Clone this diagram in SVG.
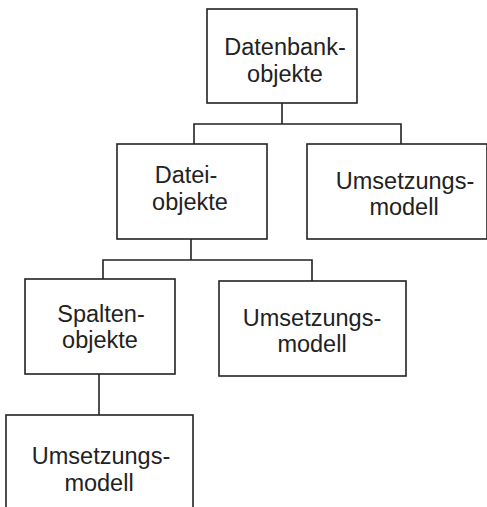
<svg xmlns="http://www.w3.org/2000/svg" width="487" height="507" viewBox="0 0 487 507">
<style>
.box{fill:#fff;stroke:#222;stroke-width:1.6}
.t{font-family:"Liberation Sans",Arial,sans-serif;font-size:23.5px;fill:#222;text-anchor:middle}
.c{fill:none;stroke:#222;stroke-width:1.6}
</style>
<rect width="487" height="507" fill="#fff"/>
<g id="connectors">
<path class="c" d="M282 103V124M194 144V124H401V144"/>
<path class="c" d="M191 239V260M103 279V260H312V281"/>
<path class="c" d="M99 374V415"/>
</g>
<g id="datenbankobjekte">
<rect class="box" x="207" y="9" width="150" height="94"/>
<text class="t" x="285" y="55">Datenbank-</text>
<text class="t" x="285" y="82">objekte</text>
</g>
<g id="dateiobjekte">
<rect class="box" x="117" y="144" width="150" height="95"/>
<text class="t" x="186" y="183">Datei-</text>
<text class="t" x="190" y="210">objekte</text>
</g>
<g id="umsetzungsmodell1">
<rect class="box" x="307" y="144" width="180" height="95"/>
<text class="t" x="405" y="189">Umsetzungs-</text>
<text class="t" x="404" y="215">modell</text>
</g>
<g id="spaltenobjekte">
<rect class="box" x="25" y="279" width="150" height="95"/>
<text class="t" x="101" y="322">Spalten-</text>
<text class="t" x="100" y="348">objekte</text>
</g>
<g id="umsetzungsmodell2">
<rect class="box" x="219" y="281" width="187" height="95"/>
<text class="t" x="312" y="326">Umsetzungs-</text>
<text class="t" x="312" y="352">modell</text>
</g>
<g id="umsetzungsmodell3">
<rect class="box" x="6" y="415" width="187" height="100"/>
<text class="t" x="101" y="464">Umsetzungs-</text>
<text class="t" x="99" y="491">modell</text>
</g>
</svg>
